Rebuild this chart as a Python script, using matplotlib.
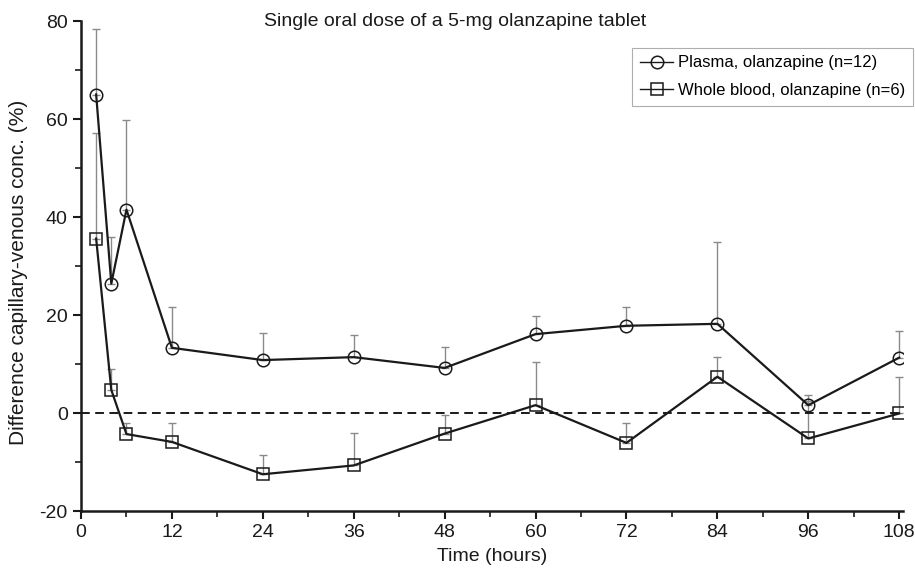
import matplotlib.pyplot as plt
import numpy as np

plt.rcParams['font.family'] = ['Liberation Sans', 'DejaVu Sans']
plt.rcParams['axes.unicode_minus'] = False

# sampling times (hours)
hours = [2, 4, 6, 12, 24, 36, 48, 60, 72, 84, 96, 108]

# plasma, mean and upper end of the error bar
plasma_mean = [65.0, 26.4, 41.5, 13.3, 10.8, 11.4, 9.2, 16.1, 17.8, 18.2, 1.6, 11.3]
plasma_top = [78.3, 36.0, 59.7, 21.7, 16.3, 16.0, 13.5, 19.8, 21.7, 34.8, 3.7, 16.8]

# whole blood, mean and upper end of the error bar
blood_mean = [35.6, 4.7, -4.3, -5.9, -12.5, -10.7, -4.2, 1.6, -6.1, 7.4, -5.2, -0.1]
blood_top = [57.2, 9.0, -2.0, -2.0, -8.6, -4.0, -0.4, 10.5, -2.1, 11.5, 2.5, 7.4]

x_ticks = [0, 12, 24, 36, 48, 60, 72, 84, 96, 108]
y_ticks = [-20, 0, 20, 40, 60, 80]

fig = plt.figure(figsize=(9.15, 5.71), dpi=100)
ax = fig.add_axes([81 / 915, 1 - 511 / 571, 822 / 915, 490 / 571])

# upper-only error bars in grey
for m, t in [(plasma_mean, plasma_top), (blood_mean, blood_top)]:
    m = np.array(m)
    up = np.array(t) - m
    ax.errorbar(hours, m, yerr=[np.zeros_like(up), up], fmt='none',
                ecolor='#8a8a8a', elinewidth=1.0, capsize=3, capthick=1.0, zorder=1)

ax.axhline(0, color='#1a1a1a', lw=1.4, ls=(0, (4.5, 2.8)), zorder=1)

ax.plot(hours, plasma_mean, color='#1a1a1a', lw=1.6, marker='o', ms=9,
        mfc='none', mec='#1a1a1a', mew=1.1, label='Plasma, olanzapine (n=12)', zorder=3)
ax.plot(hours, blood_mean, color='#1a1a1a', lw=1.6, marker='s', ms=9,
        mfc='none', mec='#1a1a1a', mew=1.1, label='Whole blood, olanzapine (n=6)', zorder=3)

ax.set_xlim(0, 108.5)
ax.set_ylim(-20, 80)
ax.set_xticks(x_ticks)
ax.set_yticks(y_ticks)
ax.set_xticks(np.arange(6, 108, 12), minor=True)
ax.set_yticks(np.arange(-10, 80, 20), minor=True)

for s in ['top', 'right']:
    ax.spines[s].set_visible(False)
for s in ['left', 'bottom']:
    ax.spines[s].set_linewidth(1.8)
    ax.spines[s].set_color('#1a1a1a')

ax.tick_params(which='major', length=6, width=1.5, labelsize=14, colors='#1a1a1a')
ax.tick_params(which='minor', length=4, width=1.2, colors='#1a1a1a')

ax.set_xlabel('Time (hours)', fontsize=14, color='#1a1a1a', labelpad=5)
ax.set_ylabel('Difference capillary-venous conc. (%)', fontsize=15, color='#1a1a1a')
ax.yaxis.set_label_coords(28 / 915, 1 - 272 / 571, transform=fig.transFigure)

fig.text(455 / 915, 1 - 22 / 571, 'Single oral dose of a 5-mg olanzapine tablet',
         ha='center', va='center', fontsize=14, color='#1a1a1a')

leg = ax.legend(loc='upper right', bbox_to_anchor=(913 / 915, 1 - 48 / 571),
                bbox_transform=fig.transFigure, fontsize=12, frameon=True,
                fancybox=False, borderpad=0.45, handlelength=2.0, handletextpad=0.3,
                labelspacing=0.75, borderaxespad=0)
leg.get_frame().set_edgecolor('#9a9a9a')
leg.get_frame().set_linewidth(0.8)
for h in leg.legend_handles:
    h.set_linewidth(1.0)

fig.savefig('out.png', dpi=100)
